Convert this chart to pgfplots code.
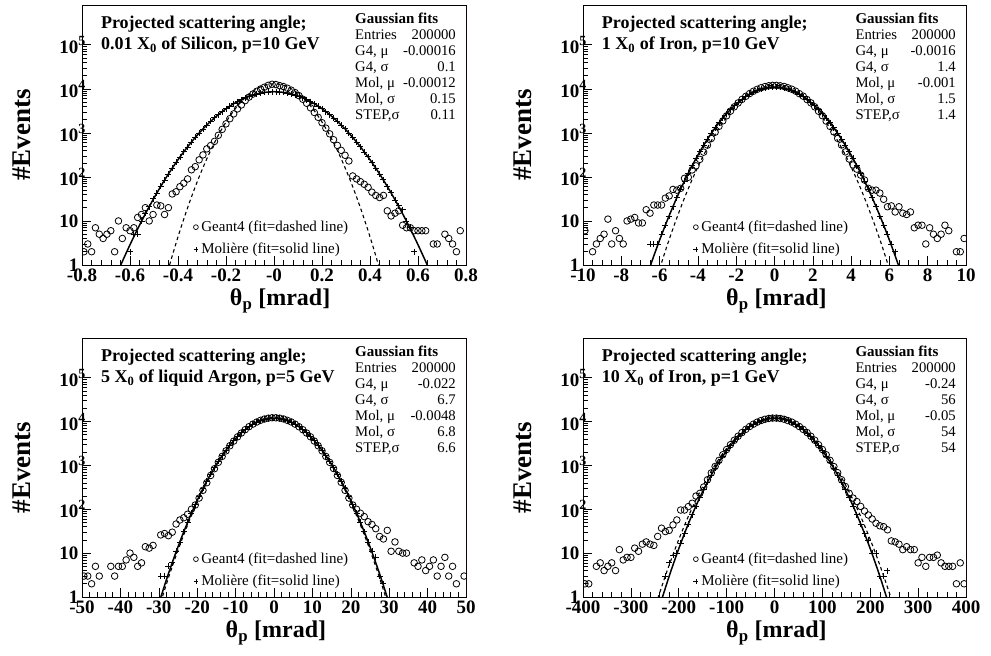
\documentclass[border=0pt]{standalone}
\usepackage{fontspec}
\setmainfont{Liberation Serif}
\usepackage{pgfplots}
\pgfplotsset{compat=1.18}
\definecolor{framered}{RGB}{140,25,25}
\newcommand{\supx}[1]{\rlap{\raisebox{0.42em}{\fontsize{14}{14}\selectfont #1}}}
\newcommand{\titlefont}{\bfseries\fontsize{18}{21}\selectfont}
\newcommand{\statfont}{\fontsize{14.7}{16}\selectfont}
\newcommand{\ptitle}[2]{%
  \node[anchor=base west, inner sep=0pt, font=\titlefont, yshift=-24pt] at (rel axis cs:0.049,1) {#1};
  \node[anchor=base west, inner sep=0pt, font=\titlefont, yshift=-45pt] at (rel axis cs:0.049,1) {#2};}
\newcommand{\srow}[3]{%
  \node[anchor=base west, inner sep=0pt, font=\statfont, yshift=-#1pt] at (rel axis cs:0.711,1) {#2};
  \node[anchor=base east, inner sep=0pt, font=\statfont, yshift=-#1pt] at (rel axis cs:0.974,1) {#3};}
\newcommand{\stats}[6]{%
  \node[anchor=base west, inner sep=0pt, font=\bfseries\fontsize{15}{16}\selectfont, yshift=-18.3pt] at (rel axis cs:0.711,1) {Gaussian fits};
  \srow{34.3}{Entries}{#1}
  \srow{50.4}{G4, μ}{#2}
  \srow{66.5}{G4, σ}{#3}
  \srow{82.6}{Mol, μ}{#4}
  \srow{98.7}{Mol, σ}{#5}
  \srow{114.8}{STEP,σ}{#6}
  \draw[framered, line width=1pt] (rel axis cs:1,0) -- (rel axis cs:1,1);
  \addlegendimage{legend image code/.code={\path[draw=none, fill=none] (0pt,-2pt) rectangle (7pt,2pt); \draw[black, fill=none, line width=0.7pt, mark=o, mark size=2.4pt, mark options={solid, black, fill=none}] plot coordinates {(3.5pt,0pt)};}}
  \addlegendentry{Geant4 (fit=dashed line)}
  \addlegendimage{legend image code/.code={\path[draw=none, fill=none] (0pt,-2pt) rectangle (7pt,2pt); \draw[black, fill=none, line width=0.7pt, mark=+, mark size=2.4pt, mark options={solid, black}] plot coordinates {(3.5pt,0pt)};}}
  \addlegendentry{Molière (fit=solid line)}}
\pgfplotsset{
  g4/.style={only marks, mark=o, mark size=3.3pt, line width=0.8pt, black, forget plot},
  mol/.style={only marks, mark=+, mark size=3pt, line width=0.8pt, black, forget plot},
  solidfit/.style={no marks, black, line width=1.5pt, smooth, forget plot},
  dashfit/.style={no marks, black, line width=1.1pt, dash pattern=on 3.5pt off 3pt, smooth, forget plot},
}
\pgfplotsset{every axis/.append style={
    scale only axis,
    axis line style={line width=0.9pt},
    tick align=inside,
    xtick pos=left, ytick pos=left,
    major tick length=9pt, minor tick length=5pt,
    tick style={line width=0.6pt, black},
    ticklabel style={font=\bfseries\fontsize{19}{19}\selectfont},
    xlabel style={font=\bfseries\fontsize{24}{24}\selectfont, at={(axis description cs:0.505,-0.138)}, anchor=center},
    ylabel style={font=\bfseries\fontsize{27}{27}\selectfont, at={(axis description cs:-0.156,0.5)}, anchor=center},
    clip marker paths=true,
    legend style={at={(rel axis cs:0.287,0.029)}, anchor=south west, draw=none, fill=none, inner sep=0pt,
      font=\fontsize{15}{17}\selectfont, row sep=6pt},
    legend cell align=left,
}}
\begin{document}
\begin{tikzpicture}
\useasboundingbox (0pt,0pt) rectangle (991pt,656pt);

% ---------------- Panel 1 ----------------
\begin{axis}[at={(82pt,391pt)}, anchor=south west, width=384pt, height=260pt,
  ymode=log, ymin=1, ymax=8e5,
  ytick={1,10,100,1000,10000,100000},
  yticklabels={1,10,10\supx{2},10\supx{3},10\supx{4},10\supx{5}},
  xlabel={θ\textsubscript{p} [mrad]}, ylabel={\#Events},
  xmin=-0.8, xmax=0.8, xtick={-0.8,-0.6,-0.4,-0.2,0,0.2,0.4,0.6,0.8},
  xticklabels={-0.8,-0.6,-0.4,-0.2,-0,0.2,0.4,0.6,0.8}, minor x tick num=4,
  xlabel style={at={(axis description cs:0.516,-0.138)}}]
\addplot[solidfit] coordinates {(-0.66,0.537) (-0.63,1.27) (-0.60,2.88) (-0.57,6.29) (-0.54,13.2) (-0.51,26.5) (-0.48,51.3) (-0.45,95.4) (-0.42,170.4) (-0.39,292.6) (-0.36,482) (-0.33,764) (-0.30,1163) (-0.27,1700) (-0.24,2388) (-0.21,3224) (-0.18,4181) (-0.15,5212) (-0.12,6237) (-0.09,7176) (-0.06,7930) (-0.03,8420) (0,8590) (0.03,8420) (0.06,7930) (0.09,7176) (0.12,6237) (0.15,5212) (0.18,4181) (0.21,3224) (0.24,2388) (0.27,1700) (0.30,1163) (0.33,764) (0.36,482) (0.39,292.6) (0.42,170.4) (0.45,95.4) (0.48,51.3) (0.51,26.5) (0.54,13.2) (0.57,6.29) (0.60,2.88) (0.63,1.27) (0.66,0.537)};
\addplot[dashfit] coordinates {(-0.45,0.52) (-0.425,1.55) (-0.4,4.36) (-0.375,11.5) (-0.35,28.4) (-0.325,66.1) (-0.3,144) (-0.275,296) (-0.25,571) (-0.225,1034) (-0.2,1760) (-0.175,2811) (-0.15,4220) (-0.125,5952) (-0.1,7885) (-0.075,9812) (-0.05,11470) (-0.025,12600) (0,13000) (0.025,12600) (0.05,11470) (0.075,9812) (0.1,7885) (0.125,5952) (0.15,4220) (0.175,2811) (0.2,1760) (0.225,1034) (0.25,571) (0.275,296) (0.3,144) (0.325,66.1) (0.35,28.4) (0.375,11.5) (0.4,4.36) (0.425,1.55) (0.45,0.52)};
\addplot[mol] coordinates {(-0.600,2) (-0.584,5) (-0.568,5) (-0.552,10) (-0.536,15) (-0.520,21) (-0.504,32) (-0.488,43) (-0.472,61) (-0.456,85) (-0.440,116) (-0.424,158) (-0.408,213) (-0.392,280) (-0.376,370) (-0.360,480) (-0.344,620) (-0.328,790) (-0.312,990) (-0.296,1230) (-0.280,1500) (-0.264,1830) (-0.248,2190) (-0.232,2600) (-0.216,3050) (-0.200,3530) (-0.184,4050) (-0.168,4590) (-0.152,5140) (-0.136,5700) (-0.120,6240) (-0.104,6760) (-0.088,7230) (-0.072,7650) (-0.056,8010) (-0.040,8290) (-0.024,8480) (-0.008,8580) (0.008,8590) (0.024,8470) (0.040,8300) (0.056,8000) (0.072,7660) (0.088,7220) (0.104,6770) (0.120,6230) (0.136,5690) (0.152,5150) (0.168,4580) (0.184,4060) (0.200,3520) (0.216,3040) (0.232,2610) (0.248,2180) (0.264,1840) (0.280,1490) (0.296,1240) (0.312,980) (0.328,800) (0.344,610) (0.360,490) (0.376,365) (0.392,285) (0.408,210) (0.424,160) (0.440,114) (0.456,86) (0.472,60) (0.488,44) (0.504,30) (0.520,22) (0.536,18) (0.552,10) (0.568,7) (0.584,2)};
\addplot[g4] coordinates {(-0.792,2) (-0.776,3) (-0.760,2) (-0.744,7) (-0.728,5) (-0.712,4) (-0.696,5) (-0.680,6) (-0.664,2) (-0.648,10) (-0.632,4) (-0.616,7) (-0.600,6) (-0.584,7) (-0.568,12) (-0.552,14) (-0.536,20) (-0.520,10) (-0.504,14) (-0.488,23) (-0.472,22) (-0.456,14) (-0.440,20) (-0.424,41) (-0.408,46) (-0.392,60) (-0.376,72) (-0.360,90) (-0.344,145) (-0.328,171) (-0.312,244) (-0.296,316) (-0.280,433) (-0.264,515) (-0.248,640) (-0.232,880) (-0.216,1200) (-0.200,1600) (-0.184,2100) (-0.168,2700) (-0.152,3500) (-0.136,4300) (-0.120,5400) (-0.104,6500) (-0.088,7600) (-0.072,8800) (-0.056,9900) (-0.040,10900) (-0.024,12000) (-0.008,12700) (0.008,12500) (0.024,11800) (0.040,11200) (0.056,10300) (0.072,9300) (0.088,8200) (0.104,7000) (0.120,5800) (0.136,4700) (0.152,3700) (0.168,2900) (0.184,2250) (0.200,1700) (0.216,1280) (0.232,950) (0.248,700) (0.264,520) (0.280,400) (0.296,310) (0.312,230) (0.328,105) (0.344,90) (0.360,78) (0.376,68) (0.392,58) (0.408,45) (0.424,38) (0.440,34) (0.456,38) (0.472,17) (0.488,13) (0.504,15) (0.520,17) (0.536,8) (0.552,7) (0.568,7) (0.584,6) (0.600,6) (0.616,6) (0.632,6) (0.664,3) (0.680,3) (0.712,5) (0.728,4) (0.744,3) (0.760,2) (0.776,6)};
\ptitle{Projected scattering angle;}{0.01 X\textsubscript{0} of Silicon, p=10 GeV}
\stats{200000}{-0.00016}{0.1}{-0.00012}{0.15}{0.11}
\end{axis}

% ---------------- Panel 2 ----------------
\begin{axis}[at={(583pt,391pt)}, anchor=south west, width=383pt, height=260pt,
  ymode=log, ymin=1, ymax=8e5,
  ytick={1,10,100,1000,10000,100000},
  yticklabels={1,10,10\supx{2},10\supx{3},10\supx{4},10\supx{5}},
  xlabel={θ\textsubscript{p} [mrad]}, ylabel={\#Events},
  xmin=-10, xmax=10, xtick={-10,-8,-6,-4,-2,0,2,4,6,8,10},
  xticklabels={-10,-8,-6,-4,-2,0,2,4,6,8,10}, minor x tick num=3,
  legend style={at={(rel axis cs:0.285,0.029)}}]
\addplot[solidfit] coordinates {(-6.8,0.378) (-6.4,1.22) (-6.0,3.68) (-5.6,10.3) (-5.2,26.9) (-4.8,65.5) (-4.4,148.5) (-4.0,313.2) (-3.6,615.5) (-3.2,1126) (-2.8,1920) (-2.4,3049) (-2.0,4508) (-1.6,6208) (-1.2,7962) (-0.8,9511) (-0.4,10580) (0,10965) (0.4,10580) (0.8,9511) (1.2,7962) (1.6,6208) (2.0,4508) (2.4,3049) (2.8,1920) (3.2,1126) (3.6,615.5) (4.0,313.2) (4.4,148.5) (4.8,65.5) (5.2,26.9) (5.6,10.3) (6.0,3.68) (6.4,1.22) (6.8,0.378)};
\addplot[dashfit] coordinates {(-6.0,0.82) (-5.6,2.82) (-5.2,8.93) (-4.8,25.9) (-4.4,69.1) (-4.0,169) (-3.6,379.8) (-3.2,784.4) (-2.8,1486) (-2.4,2587) (-2.0,4134) (-1.6,6067) (-1.2,8177) (-0.8,10120) (-0.4,11500) (0,12000) (0.4,11500) (0.8,10120) (1.2,8177) (1.6,6067) (2.0,4134) (2.4,2587) (2.8,1486) (3.2,784.4) (3.6,379.8) (4.0,169) (4.4,69.1) (4.8,25.9) (5.2,8.93) (5.6,2.82) (6.0,0.82)};
\addplot[mol] coordinates {(-6.5,3) (-6.3,3) (-6.1,3) (-5.9,5) (-5.7,8) (-5.5,13) (-5.3,21) (-5.1,34) (-4.9,53) (-4.7,81) (-4.5,122) (-4.3,180) (-4.1,262) (-3.9,373) (-3.7,523) (-3.5,720) (-3.3,975) (-3.1,1300) (-2.9,1690) (-2.7,2170) (-2.5,2730) (-2.3,3380) (-2.1,4120) (-1.9,4920) (-1.7,5770) (-1.5,6650) (-1.3,7530) (-1.1,8380) (-0.9,9160) (-0.7,9830) (-0.5,10370) (-0.3,10750) (-0.1,10940) (0.1,10940) (0.3,10750) (0.5,10370) (0.7,9830) (0.9,9160) (1.1,8380) (1.3,7530) (1.5,6650) (1.7,5770) (1.9,4920) (2.1,4120) (2.3,3380) (2.5,2730) (2.7,2170) (2.9,1690) (3.1,1300) (3.3,975) (3.5,720) (3.7,523) (3.9,373) (4.1,262) (4.3,180) (4.5,122) (4.7,81) (4.9,53) (5.1,34) (5.3,21) (5.5,13) (5.7,8) (5.9,5) (6.1,3) (6.3,2)};
\addplot[g4] coordinates {(-9.9,6) (-9.5,2) (-9.3,3) (-9.1,4) (-8.9,5) (-8.7,11) (-8.5,3) (-8.3,6) (-8.1,4) (-7.9,3) (-7.7,10) (-7.5,11) (-7.3,12) (-7.1,9) (-6.9,9) (-6.7,18) (-6.5,15) (-6.3,23) (-6.1,23) (-5.9,23) (-5.7,33) (-5.5,37) (-5.3,52) (-5.1,50) (-4.9,55) (-4.7,93) (-4.5,98) (-4.3,144) (-4.1,178) (-3.9,250) (-3.7,365) (-3.5,527) (-3.3,746) (-3.1,1034) (-2.9,1404) (-2.7,1868) (-2.5,2437) (-2.3,3113) (-2.1,3896) (-1.9,4777) (-1.7,5740) (-1.5,6760) (-1.3,7800) (-1.1,8815) (-0.9,9760) (-0.7,10590) (-0.5,11260) (-0.3,11730) (-0.1,11970) (0.1,11950) (0.3,11700) (0.5,11300) (0.7,10550) (0.9,9800) (1.1,8850) (1.3,7750) (1.5,6800) (1.7,5700) (1.9,4800) (2.1,3900) (2.3,3100) (2.5,2450) (2.7,1850) (2.9,1400) (3.1,1050) (3.3,750) (3.5,530) (3.7,370) (3.9,255) (4.1,187) (4.3,150) (4.5,110) (4.7,85) (4.9,55) (5.1,50) (5.3,50) (5.5,43) (5.7,31) (5.9,21) (6.1,22) (6.3,16) (6.5,21) (6.7,15) (6.9,14) (7.1,16) (7.3,7) (7.5,8) (7.7,8) (7.9,3) (8.1,7) (8.3,5) (8.5,4) (8.7,5) (8.9,8) (9.1,6) (9.5,2) (9.7,2) (9.9,4)};
\ptitle{Projected scattering angle;}{1 X\textsubscript{0} of Iron, p=10 GeV}
\stats{200000}{-0.0016}{1.4}{-0.001}{1.5}{1.4}
\end{axis}

% ---------------- Panel 3 ----------------
\begin{axis}[at={(82pt,59pt)}, anchor=south west, width=384pt, height=259pt,
  ymode=log, ymin=1, ymax=8e5,
  ytick={1,10,100,1000,10000,100000},
  yticklabels={1,10,10\supx{2},10\supx{3},10\supx{4},10\supx{5}},
  xlabel={θ\textsubscript{p} [mrad]}, ylabel={\#Events},
  xmin=-50, xmax=50, xtick={-50,-40,-30,-20,-10,0,10,20,30,40,50},
  xticklabels={-50,-40,-30,-20,-10,0,10,20,30,40,50}, minor x tick num=4]
\addplot[solidfit] coordinates {(-30,0.71) (-28,2.50) (-26,8.03) (-24,23.7) (-22,64) (-20,158.8) (-18,361.2) (-16,753.4) (-14,1441) (-12,2529) (-10,4070) (-8,6007) (-6,8131) (-4,10090) (-2,11490) (0,12000) (2,11490) (4,10090) (6,8131) (8,6007) (10,4070) (12,2529) (14,1441) (16,753.4) (18,361.2) (20,158.8) (22,64) (24,23.7) (26,8.03) (28,2.50) (30,0.71)};
\addplot[dashfit] coordinates {(-30,0.545) (-28,1.99) (-26,6.61) (-24,20.1) (-22,56.1) (-20,142.9) (-18,333.2) (-16,710.6) (-14,1386) (-12,2474) (-10,4038) (-8,6030) (-6,8236) (-4,10290) (-2,11770) (0,12300) (2,11770) (4,10290) (6,8236) (8,6030) (10,4038) (12,2474) (14,1386) (16,710.6) (18,333.2) (20,142.9) (22,56.1) (24,20.1) (26,6.61) (28,1.99) (30,0.545)};
\addplot[mol] coordinates {(-29.5,3) (-28.5,3) (-27.5,5) (-26.5,6) (-25.5,11) (-24.5,18) (-23.5,31) (-22.5,50) (-21.5,81) (-20.5,128) (-19.5,197) (-18.5,300) (-17.5,440) (-16.5,630) (-15.5,890) (-14.5,1240) (-13.5,1670) (-12.5,2220) (-11.5,2870) (-10.5,3640) (-9.5,4520) (-8.5,5500) (-7.5,6530) (-6.5,7600) (-5.5,8650) (-4.5,9640) (-3.5,10510) (-2.5,11220) (-1.5,11710) (-0.5,11970) (0.5,11970) (1.5,11710) (2.5,11220) (3.5,10510) (4.5,9640) (5.5,8650) (6.5,7600) (7.5,6530) (8.5,5500) (9.5,4520) (10.5,3640) (11.5,2870) (12.5,2220) (13.5,1670) (14.5,1240) (15.5,890) (16.5,630) (17.5,440) (18.5,300) (19.5,197) (20.5,128) (21.5,81) (22.5,50) (23.5,31) (24.5,18) (25.5,11) (26.5,8) (27.5,3) (28.5,2)};
\addplot[g4] coordinates {(-49.5,3) (-48.5,3) (-47.5,2) (-46.5,5) (-45.5,3) (-42.5,5) (-41.5,3) (-40.5,5) (-39.5,5) (-38.5,7) (-37.5,10) (-36.5,8) (-35.5,5) (-34.5,6) (-33.5,14) (-32.5,13) (-31.5,15) (-29.5,26) (-28.5,28) (-27.5,25) (-26.5,30) (-25.5,46) (-24.5,57) (-23.5,64) (-22.5,77) (-21.5,100) (-20.5,125) (-19.5,180) (-18.5,270) (-17.5,403) (-16.5,588) (-15.5,840) (-14.5,1173) (-13.5,1603) (-12.5,2141) (-11.5,2797) (-10.5,3573) (-9.5,4466) (-8.5,5457) (-7.5,6521) (-6.5,7621) (-5.5,8711) (-4.5,9738) (-3.5,10650) (-2.5,11380) (-1.5,11900) (-0.5,12170) (0.5,12150) (1.5,11900) (2.5,11400) (3.5,10600) (4.5,9750) (5.5,8700) (6.5,7600) (7.5,6500) (8.5,5450) (9.5,4480) (10.5,3580) (11.5,2800) (12.5,2150) (13.5,1600) (14.5,1170) (15.5,850) (16.5,590) (17.5,410) (18.5,270) (19.5,180) (20.5,125) (21.5,100) (22.5,81) (23.5,68) (24.5,52) (25.5,45) (26.5,36) (27.5,24) (28.5,21) (29.5,33) (30.5,11) (31.5,18) (32.5,11) (33.5,10) (34.5,10) (36.5,6) (37.5,5) (38.5,7) (39.5,4) (40.5,5) (41.5,7) (42.5,3) (43.5,5) (44.5,8) (45.5,3) (46.5,5) (47.5,2) (49.5,3)};
\ptitle{Projected scattering angle;}{5 X\textsubscript{0} of liquid Argon, p=5 GeV}
\stats{200000}{-0.022}{6.7}{-0.0048}{6.8}{6.6}
\end{axis}

% ---------------- Panel 4 ----------------
\begin{axis}[at={(583pt,59pt)}, anchor=south west, width=383pt, height=259pt,
  ymode=log, ymin=1, ymax=8e5,
  ytick={1,10,100,1000,10000,100000},
  yticklabels={1,10,10\supx{2},10\supx{3},10\supx{4},10\supx{5}},
  xlabel={θ\textsubscript{p} [mrad]}, ylabel={\#Events},
  xmin=-400, xmax=400, xtick={-400,-300,-200,-100,0,100,200,300,400},
  xticklabels={-400,-300,-200,-100,0,100,200,300,400}, minor x tick num=4,
  legend style={at={(rel axis cs:0.285,0.029)}}]
\addplot[solidfit] coordinates {(-240,0.616) (-220,2.98) (-200,12.6) (-180,46.4) (-160,148.9) (-140,416.5) (-120,1016) (-100,2160) (-80,4005) (-60,6474) (-40,9120) (-20,11210) (0,12000) (20,11210) (40,9120) (60,6474) (80,4005) (100,2160) (120,1016) (140,416.5) (160,148.9) (180,46.4) (200,12.6) (220,2.98) (240,0.616)};
\addplot[dashfit] coordinates {(-260,0.25) (-240,1.23) (-220,5.35) (-200,20.4) (-180,68.5) (-160,202.6) (-140,527.5) (-120,1208) (-100,2437) (-80,4326) (-60,6760) (-40,9298) (-20,11260) (0,12000) (20,11260) (40,9298) (60,6760) (80,4326) (100,2437) (120,1208) (140,527.5) (160,202.6) (180,68.5) (200,20.4) (220,5.35) (240,1.23) (260,0.25)};
\addplot[mol] coordinates {(-228,3) (-220,6) (-212,9) (-204,10) (-196,17) (-188,28) (-180,46) (-172,75) (-164,119) (-156,185) (-148,281) (-140,417) (-132,605) (-124,860) (-116,1190) (-108,1620) (-100,2160) (-92,2810) (-84,3580) (-76,4460) (-68,5430) (-60,6470) (-52,7550) (-44,8610) (-36,9610) (-28,10490) (-20,11210) (-12,11710) (-4,11970) (4,11970) (12,11710) (20,11210) (28,10490) (36,9610) (44,8610) (52,7550) (60,6470) (68,5430) (76,4460) (84,3580) (92,2810) (100,2160) (108,1620) (116,1190) (124,860) (132,605) (140,417) (148,281) (156,185) (164,119) (172,75) (180,46) (188,28) (196,20) (204,10) (212,10) (220,3) (228,3) (236,4)};
\addplot[g4] coordinates {(-396,2) (-388,2) (-372,5) (-364,6) (-356,4) (-348,5) (-340,6) (-332,4) (-324,12) (-316,7) (-308,8) (-300,8) (-292,13) (-284,11) (-276,16) (-268,18) (-260,16) (-252,15) (-244,24) (-236,37) (-228,31) (-220,33) (-212,44) (-204,57) (-196,96) (-188,96) (-180,115) (-172,137) (-164,200) (-156,230) (-148,321) (-140,470) (-132,674) (-124,945) (-116,1298) (-108,1745) (-100,2298) (-92,2962) (-84,3738) (-76,4619) (-68,5589) (-60,6620) (-52,7678) (-44,8713) (-36,9688) (-28,10540) (-20,11230) (-12,11720) (-4,11970) (4,11950) (12,11700) (20,11250) (28,10500) (36,9700) (44,8700) (52,7650) (60,6600) (68,5600) (76,4600) (84,3750) (92,2950) (100,2300) (108,1750) (116,1300) (124,940) (132,680) (140,470) (148,330) (156,230) (164,180) (172,150) (180,116) (188,91) (196,74) (204,60) (212,48) (220,42) (228,40) (236,34) (244,19) (252,18) (260,16) (268,12) (276,14) (284,12) (292,12) (300,6) (308,8) (316,5) (324,8) (332,8) (340,9) (348,6) (356,5) (364,5) (372,5) (380,2) (388,6) (396,2)};
\ptitle{Projected scattering angle;}{10 X\textsubscript{0} of Iron, p=1 GeV}
\stats{200000}{-0.24}{56}{-0.05}{54}{54}
\end{axis}
\end{tikzpicture}
\end{document}
